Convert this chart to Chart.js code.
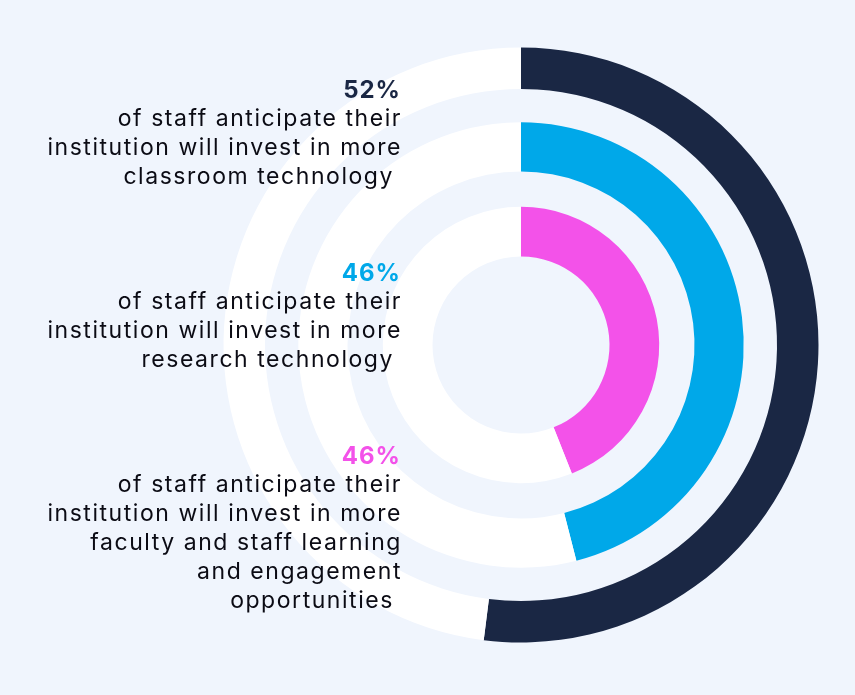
<!DOCTYPE html>
<html>
<head>
<meta charset="utf-8">
<script src="https://cdn.jsdelivr.net/npm/chart.js@4.4.1/dist/chart.umd.min.js"></script>
<style>
  html, body { margin: 0; padding: 0; }
  body { width: 855px; height: 695px; background: #f0f5fd; position: relative; overflow: hidden; font-family: "Inter", "Noto Sans", sans-serif; }
  #wrap { position: absolute; left: 201px; top: 0px; width: 640px; height: 690px; }
  .blk { position: absolute; right: 453px; text-align: right; font-size: 23px; letter-spacing: 1.55px; line-height: 29px; color: #0b0b14; white-space: pre; z-index: 2; }
  .pct { font-weight: 700; font-size: 24px; letter-spacing: 1px; margin-right: 1px; }
</style>
</head>
<body>
<div id="wrap"><canvas id="c"></canvas></div>
<div id="labels"></div>
<script>
// ---- data ----
const categories = ['Classroom technology', 'Research technology', 'Faculty and staff learning and engagement opportunities'];
const shares = [52, 46, 44];             // arc lengths as drawn (% of full circle)
const pctLabels = ['52%', '46%', '46%'];  // figures printed in the text
const descLines = [
  ['of staff anticipate their', 'institution will invest in more', 'classroom technology '],
  ['of staff anticipate their', 'institution will invest in more', 'research technology '],
  ['of staff anticipate their', 'institution will invest in more', 'faculty and staff learning', 'and engagement', 'opportunities ']
];

// ---- styles ----
const ringColors = ['#1a2744', '#00a8e9', '#f352e9'];
const trackColor = '#ffffff';
const ringWeights = [41.5, 49.2, 49.7];
const gapWeights = [33.3, 35.3];
const blockTops = [75, 258, 441];

const datasets = [];
shares.forEach((v, i) => {
  datasets.push({
    label: categories[i],
    data: [v, 100 - v],
    backgroundColor: [ringColors[i], trackColor],
    borderWidth: 0,
    weight: ringWeights[i]
  });
  if (i < gapWeights.length) {
    datasets.push({
      label: 'gap' + i,
      data: [100],
      backgroundColor: ['rgba(0,0,0,0)'],
      borderWidth: 0,
      weight: gapWeights[i]
    });
  }
});

new Chart(document.getElementById('c'), {
  type: 'doughnut',
  data: { labels: ['share', 'rest'], datasets },
  options: {
    responsive: true,
    maintainAspectRatio: false,
    animation: false,
    radius: 297.5,
    cutout: '29.75%',
    rotation: 0,
    plugins: { legend: { display: false }, tooltip: { enabled: false } },
    events: [],
    layout: { padding: 0 }
  }
});

const lab = document.getElementById('labels');
pctLabels.forEach((p, i) => {
  const d = document.createElement('div');
  d.className = 'blk';
  d.style.top = blockTops[i] + 'px';
  const s = document.createElement('div');
  s.className = 'pct';
  s.style.color = ringColors[i];
  s.textContent = p;
  d.appendChild(s);
  descLines[i].forEach(t => {
    const l = document.createElement('div');
    l.textContent = t;
    d.appendChild(l);
  });
  lab.appendChild(d);
});
</script>
</body>
</html>
